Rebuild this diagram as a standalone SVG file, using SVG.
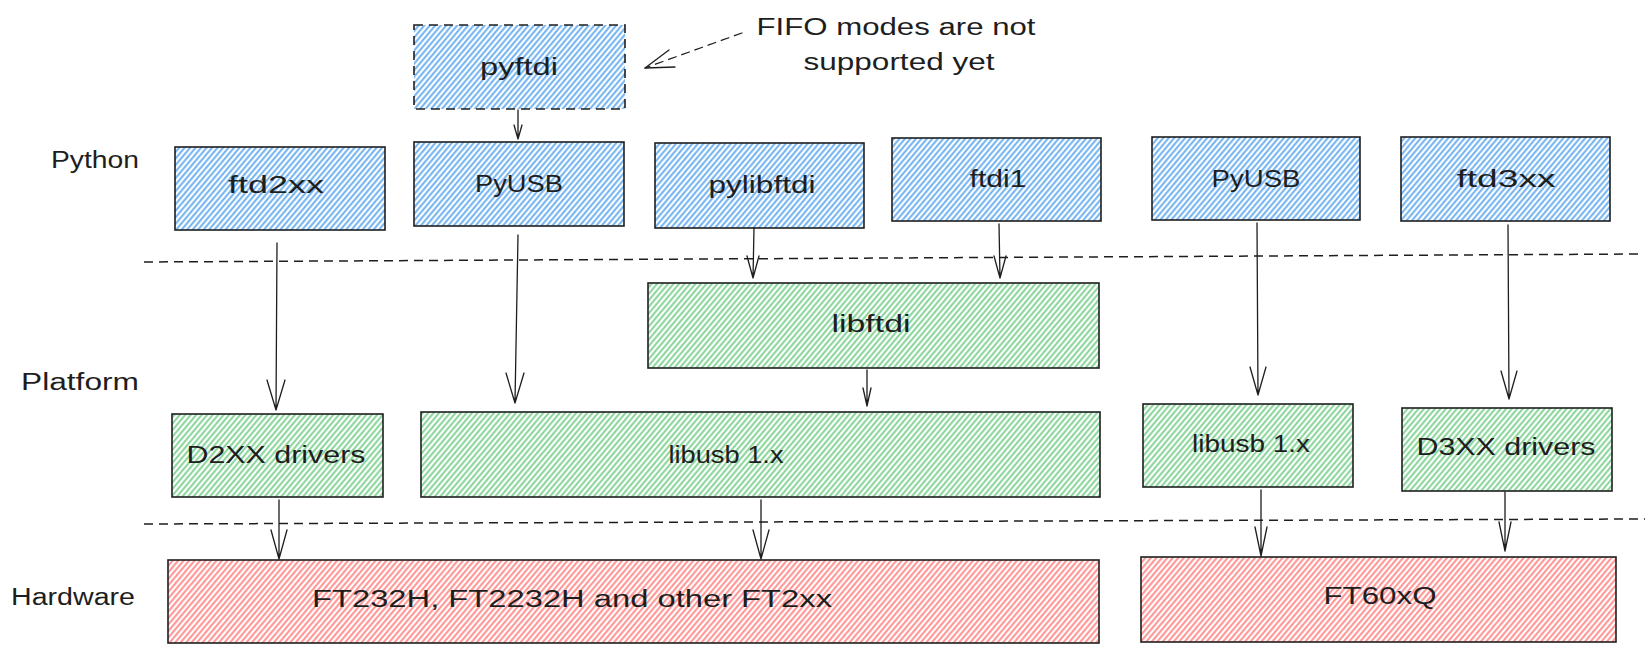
<svg xmlns="http://www.w3.org/2000/svg" width="1652" height="652" viewBox="0 0 1652 652">
<style>
.t{font-family:"Liberation Sans",Arial,sans-serif;font-size:23px;fill:#1e1e1e;text-anchor:middle}
.box{stroke:#1e1e1e;stroke-width:1.6}
.blue{fill:url(#hb)}
.green{fill:url(#hg)}
.red{fill:url(#hr)}
.dash{stroke-dasharray:9 6}
.c{fill:none;stroke:#1e1e1e;stroke-width:1.3;stroke-linecap:round;stroke-linejoin:round}
.sep{fill:none;stroke:#1e1e1e;stroke-width:1.5;stroke-dasharray:9 6}
</style>
<defs>
<pattern id="hb" patternUnits="userSpaceOnUse" width="4.2" height="10" patternTransform="rotate(40)"><rect width="4.2" height="10" fill="#fff"/><line x1="1.2" y1="0" x2="1.2" y2="10" stroke="#6aaef0" stroke-width="1.9"/></pattern>
<pattern id="hg" patternUnits="userSpaceOnUse" width="4.2" height="10" patternTransform="rotate(40)"><rect width="4.2" height="10" fill="#fff"/><line x1="1.2" y1="0" x2="1.2" y2="10" stroke="#80d292" stroke-width="1.9"/></pattern>
<pattern id="hr" patternUnits="userSpaceOnUse" width="4.2" height="10" patternTransform="rotate(40)"><rect width="4.2" height="10" fill="#fff"/><line x1="1.2" y1="0" x2="1.2" y2="10" stroke="#ff8c8c" stroke-width="1.9"/></pattern>
</defs>
<rect width="1652" height="652" fill="#ffffff"/>

<g id="separators">
<path class="sep" d="M144 262 L1640 254"/>
<path class="sep" d="M144 524 L1645 519"/>
</g>

<g id="layer-labels">
<text class="t" x="95" y="168" textLength="88" lengthAdjust="spacingAndGlyphs">Python</text>
<text class="t" x="80" y="390" textLength="118" lengthAdjust="spacingAndGlyphs">Platform</text>
<text class="t" x="73" y="605" textLength="124" lengthAdjust="spacingAndGlyphs">Hardware</text>
</g>

<g id="note">
<text class="t" x="896" y="35" textLength="279" lengthAdjust="spacingAndGlyphs">FIFO modes are not</text>
<text class="t" x="899" y="70" textLength="191" lengthAdjust="spacingAndGlyphs">supported yet</text>
</g>

<g id="pyftdi"><rect class="box blue dash" x="414" y="25" width="211" height="84"/><text class="t" x="519" y="75" textLength="78" lengthAdjust="spacingAndGlyphs">pyftdi</text></g>
<g id="ftd2xx"><rect class="box blue" x="175" y="147" width="210" height="83"/><text class="t" x="276" y="193" textLength="96" lengthAdjust="spacingAndGlyphs">ftd2xx</text></g>
<g id="pyusb-left"><rect class="box blue" x="414" y="142" width="210" height="84"/><text class="t" x="519" y="192" textLength="88" lengthAdjust="spacingAndGlyphs">PyUSB</text></g>
<g id="pylibftdi"><rect class="box blue" x="655" y="143" width="209" height="85"/><text class="t" x="762" y="193" textLength="107" lengthAdjust="spacingAndGlyphs">pylibftdi</text></g>
<g id="ftdi1"><rect class="box blue" x="892" y="138" width="209" height="83"/><text class="t" x="998" y="187" textLength="57" lengthAdjust="spacingAndGlyphs">ftdi1</text></g>
<g id="pyusb-right"><rect class="box blue" x="1152" y="137" width="208" height="83"/><text class="t" x="1256" y="187" textLength="89" lengthAdjust="spacingAndGlyphs">PyUSB</text></g>
<g id="ftd3xx"><rect class="box blue" x="1401" y="137" width="209" height="84"/><text class="t" x="1506" y="187" textLength="99" lengthAdjust="spacingAndGlyphs">ftd3xx</text></g>

<g id="libftdi"><rect class="box green" x="648" y="283" width="451" height="85"/><text class="t" x="871" y="332" textLength="79" lengthAdjust="spacingAndGlyphs">libftdi</text></g>
<g id="d2xx"><rect class="box green" x="172" y="414" width="211" height="83"/><text class="t" x="276" y="463" textLength="179" lengthAdjust="spacingAndGlyphs">D2XX drivers</text></g>
<g id="libusb-left"><rect class="box green" x="421" y="412" width="679" height="85"/><text class="t" x="726" y="463" textLength="115" lengthAdjust="spacingAndGlyphs">libusb 1.x</text></g>
<g id="libusb-right"><rect class="box green" x="1143" y="404" width="210" height="83"/><text class="t" x="1251" y="452" textLength="118" lengthAdjust="spacingAndGlyphs">libusb 1.x</text></g>
<g id="d3xx"><rect class="box green" x="1402" y="408" width="210" height="83"/><text class="t" x="1506" y="455" textLength="179" lengthAdjust="spacingAndGlyphs">D3XX drivers</text></g>

<g id="ft2xx"><rect class="box red" x="168" y="560" width="931" height="83"/><text class="t" x="572" y="607" textLength="520" lengthAdjust="spacingAndGlyphs">FT232H, FT2232H and other FT2xx</text></g>
<g id="ft60xq"><rect class="box red" x="1141" y="557" width="475" height="85"/><text class="t" x="1380" y="604" textLength="113" lengthAdjust="spacingAndGlyphs">FT60xQ</text></g>

<g id="connectors">
<path class="c" d="M742 33 L645 68" stroke-dasharray="8 6"/>
<path class="c" d="M669 50 L645 68 L675 67"/>
<path class="c" d="M518 110 L518 139 M514 125 L518 139 L522 125"/>
<path class="c" d="M277 243 L276 410 M267 380 L276 410 L285 380"/>
<path class="c" d="M518 235 L515 403 M506 373 L515 403 L524 373"/>
<path class="c" d="M754 228 L753 278 M747 256 L753 278 L759 256"/>
<path class="c" d="M999 224 L1000 278 M994 256 L1000 278 L1006 256"/>
<path class="c" d="M1257 223 L1258 395 M1250 367 L1258 395 L1266 367"/>
<path class="c" d="M1508 225 L1509 399 M1501 371 L1509 399 L1517 371"/>
<path class="c" d="M867 370 L867 406 M863 388 L867 406 L871 388"/>
<path class="c" d="M279 500 L279 559 M271 530 L279 559 L287 530"/>
<path class="c" d="M761 500 L761 559 M753 530 L761 559 L769 530"/>
<path class="c" d="M1261 490 L1261 556 M1255 527 L1261 556 L1267 527"/>
<path class="c" d="M1505 492 L1505 551 M1499 522 L1505 551 L1511 522"/>
</g>
</svg>
